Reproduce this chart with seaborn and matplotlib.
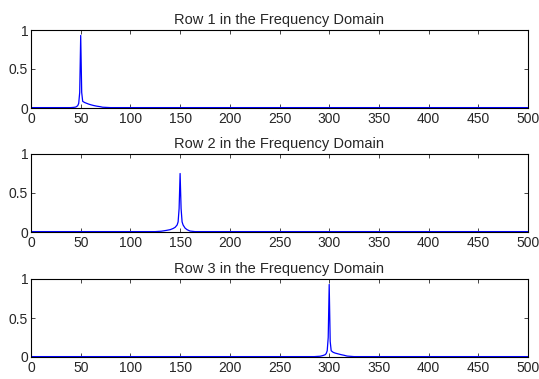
import numpy as np
import pandas as pd
import seaborn as sns
import matplotlib
matplotlib.use("Agg")
import matplotlib.pyplot as plt

sns.set_style("ticks")
plt.rcParams["font.family"] = ["Liberation Sans", "DejaVu Sans"]

titles = ["Row 1 in the Frequency Domain",
          "Row 2 in the Frequency Domain",
          "Row 3 in the Frequency Domain"]

# spectrum points (baseline ~0 elsewhere)
freq1 = [0, 40, 43, 45, 46, 47, 48, 49, 50, 51, 52, 54, 56, 58, 60, 63, 66, 70, 72, 80, 500]
amp1 = [0.005, 0.005, 0.008, 0.012, 0.02, 0.03, 0.06, 0.2, 0.93, 0.2, 0.085, 0.07, 0.06, 0.05, 0.042, 0.032, 0.024, 0.016, 0.01, 0.005, 0.005]

freq2 = [0, 125, 131, 136, 140, 143, 145, 147, 148, 149, 150, 151, 152, 153, 155, 157, 160, 165, 500]
amp2 = [0.005, 0.005, 0.01, 0.02, 0.03, 0.045, 0.06, 0.09, 0.13, 0.3, 0.75, 0.3, 0.13, 0.09, 0.05, 0.03, 0.012, 0.005, 0.005]

freq3 = [0, 285, 291, 294, 296, 297, 298, 299, 300, 301, 302, 304, 306, 309, 312, 315, 318, 325, 500]
amp3 = [0.005, 0.005, 0.01, 0.02, 0.03, 0.045, 0.08, 0.25, 0.93, 0.2, 0.08, 0.06, 0.05, 0.04, 0.03, 0.022, 0.012, 0.005, 0.005]

series = [(freq1, amp1), (freq2, amp2), (freq3, amp3)]

fig = plt.figure(figsize=(5.39, 3.79), dpi=100)
tops = [30, 154, 279]
for i, (f, a) in enumerate(series):
    top = tops[i]
    ax = fig.add_axes([31 / 539, 1 - (top + 78) / 379, 497 / 539, 78 / 379])
    df = pd.DataFrame({"freq": f, "amp": a})
    sns.lineplot(data=df, x="freq", y="amp", ax=ax, color="#0000ff", linewidth=0.9)
    ax.set_xlim(0, 500)
    ax.set_ylim(0, 1)
    ax.set_xticks(np.arange(0, 501, 50))
    ax.set_yticks([0, 0.5, 1])
    ax.set_yticklabels(["0", "0.5", "1"])
    ax.set_xlabel("")
    ax.set_ylabel("")
    ax.tick_params(direction="in", top=True, right=True, labelsize=10, length=3, width=0.6)
    ax.tick_params(axis="x", pad=3)
    ax.tick_params(axis="y", pad=2)
    for s in ax.spines.values():
        s.set_visible(True)
        s.set_linewidth(0.8)
        s.set_color("black")
    ax.set_title(titles[i], fontsize=10.5, pad=4)

fig.savefig("out.png", dpi=100)
